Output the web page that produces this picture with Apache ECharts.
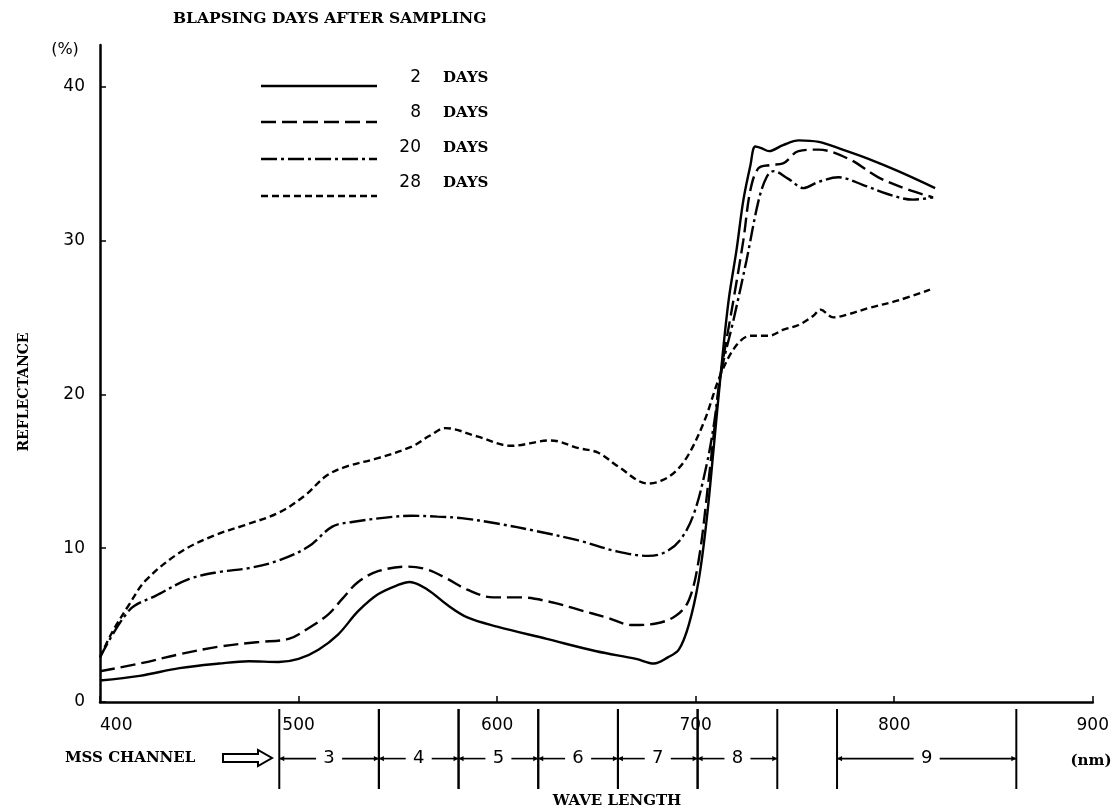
<!DOCTYPE html>
<html>
<head>
<meta charset="utf-8">
<script src="https://cdn.jsdelivr.net/npm/echarts@6/dist/echarts.min.js"></script>
<style>
html,body{margin:0;padding:0;background:#fff;}
#chart{width:1112px;height:812px;}
</style>
</head>
<body>
<div id="chart"></div>
<script>
// ---- data (wavelength nm, reflectance %) ----
const days2 = [[400,1.4],[420,1.7],[440,2.2],[460,2.5],[475,2.65],[490,2.6],[500,2.8],[510,3.4],[520,4.4],[530,5.9],[540,7.0],[550,7.6],[556,7.8],[565,7.3],[575,6.3],[585,5.5],[600,4.9],[625,4.1],[650,3.3],[670,2.8],[679,2.5],[686,2.9],[691.5,3.4],[696.5,5.0],[701.5,7.9],[705.5,11.8],[709,16.4],[712.6,21.3],[716.6,26.1],[720.6,29.4],[724,32.6],[727.6,34.9],[730,36.1],[733,36.0],[737,35.8],[744,36.2],[752,36.5],[762,36.4],[774,35.9],[787,35.3],[802,34.5],[820.6,33.4]];
const days8 = [[400,2.0],[420,2.5],[440,3.1],[460,3.6],[480,3.9],[495,4.1],[505,4.8],[515,5.7],[522,6.7],[530,7.8],[540,8.5],[555,8.8],[565,8.6],[575,8.0],[585,7.3],[598,6.8],[612,6.8],[627,6.5],[641,6.0],[655,5.5],[668,5.0],[680,5.1],[690,5.6],[696.5,6.6],[701.5,9.2],[706.5,14.4],[710.5,19.0],[712.6,21.3],[719,26.1],[724,30.0],[727.6,33.3],[731.7,34.7],[737.7,34.9],[744,35.0],[751.8,35.8],[761.8,35.9],[777,35.3],[792,34.1],[807,33.3],[819.6,32.8]];
const days20 = [[400,2.9],[415,6.0],[428,6.9],[445,8.0],[460,8.45],[475,8.7],[490,9.2],[505,10.1],[517,11.4],[527,11.7],[545,12.0],[557,12.1],[570,12.05],[582,11.95],[600,11.6],[620,11.1],[641,10.5],[660,9.8],[676,9.5],[684,9.7],[692,10.5],[699,12.2],[705.5,15.4],[709.5,18.3],[712.6,21.3],[719,24.8],[725.6,28.7],[731.7,32.6],[735.7,34.1],[739.2,34.5],[746.7,34.0],[754.3,33.4],[761.8,33.8],[771.9,34.1],[784.4,33.6],[797,33.0],[809.5,32.65],[819.6,32.8]];
const days28 = [[400,2.9],[406,4.5],[415,6.4],[423,7.9],[440,9.7],[457,10.8],[473,11.5],[490,12.3],[503,13.4],[514,14.7],[524,15.3],[540,15.85],[557,16.6],[566,17.3],[574,17.8],[590,17.26],[607,16.65],[627,17.0],[641,16.5],[651,16.2],[661,15.3],[676,14.2],[683,14.4],[690,15.0],[696.5,16.1],[704.5,18.3],[712.6,21.3],[720.6,23.2],[727.6,23.8],[736.7,23.8],[744.2,24.2],[751.8,24.5],[759.3,25.1],[762.8,25.5],[769.3,25.0],[776.9,25.2],[787,25.6],[802,26.1],[818,26.8]];

const seriesNames = ['2 DAYS','8 DAYS','20 DAYS','28 DAYS'];
const legendNumbers = ['2','8','20','28'];
const yTickValues = [0,10,20,30,40];

// MSS channel bands (nm)
const channelStart = [490,540,580,620,660,700,770];
const channelEnd   = [540,580,620,660,700,740,860];
const channelNames = ['3','4','5','6','7','8','9'];

// ---- styles ----
const serifBold = {fontFamily:'DejaVu Serif', fontWeight:'bold', color:'#000'};
const dashes = ['solid',[15,6],[16,4,3,4],[7,4]];

const chart = echarts.init(document.getElementById('chart'), null, {renderer:'canvas'});

const lineSeries = [days2, days8, days20, days28].map((d,i)=>({
  type:'line', name:seriesNames[i], data:d, xAxisIndex:0, yAxisIndex:0,
  showSymbol:false, smooth:0.35, clip:false,
  lineStyle:{color:'#000', width:2.4, type:dashes[i]},
  emphasis:{disabled:true}
}));

const channelSeries = {
  type:'custom', xAxisIndex:1, yAxisIndex:1, clip:false, silent:true,
  data: channelStart.map((s,i)=>[s, channelEnd[i], channelNames[i]]),
  encode:{x:[0,1]},
  renderItem:function(params, api){
    const x0 = api.coord([api.value(0),0])[0];
    const x1 = api.coord([api.value(1),0])[0];
    const yB = api.coord([400,0])[1];
    const yT = api.coord([400,1])[1];
    const ym = yT + 0.62*(yB-yT);
    const cx = (x0+x1)/2;
    const gap = 13;
    const st = {stroke:'#000', lineWidth:2};
    const ah = 5, aw = 2.6;
    return {type:'group', children:[
      {type:'line', shape:{x1:x0,y1:yT,x2:x0,y2:yB}, style:st},
      {type:'line', shape:{x1:x1,y1:yT,x2:x1,y2:yB}, style:st},
      {type:'line', shape:{x1:x0,y1:ym,x2:cx-gap,y2:ym}, style:{stroke:'#000',lineWidth:1.6}},
      {type:'line', shape:{x1:cx+gap,y1:ym,x2:x1,y2:ym}, style:{stroke:'#000',lineWidth:1.6}},
      {type:'polygon', shape:{points:[[x0,ym],[x0+ah,ym-aw],[x0+ah,ym+aw]]}, style:{fill:'#000'}},
      {type:'polygon', shape:{points:[[x1,ym],[x1-ah,ym-aw],[x1-ah,ym+aw]]}, style:{fill:'#000'}},
      {type:'text', x:cx, y:ym, style:{text:api.value(2), fill:'#000', font:'18px "DejaVu Sans"', align:'center', verticalAlign:'middle'}}
    ]};
  }
};

// legend drawn as graphics
const legendLineY = [86,122,159,196];
const legendTextY = [78,113,148,183];
const legendGraphics = [];
legendLineY.forEach((y,i)=>{
  legendGraphics.push({type:'line', shape:{x1:261,y1:y,x2:377,y2:y},
    style:{stroke:'#000', lineWidth:2.4, lineDash: i===0?null:dashes[i]}});
  legendGraphics.push({type:'text', x:421, y:legendTextY[i],
    style:{text:legendNumbers[i], fill:'#000', font:'17px "DejaVu Sans"', align:'right', verticalAlign:'middle'}});
  legendGraphics.push({type:'text', x:443, y:legendTextY[i],
    style:{text:'DAYS', fill:'#000', font:'bold 15px "DejaVu Serif"', align:'left', verticalAlign:'middle'}});
});

const option = {
  animation:false,
  backgroundColor:'#fff',
  title:{text:'BLAPSING DAYS AFTER SAMPLING', left:168, top:6,
    textStyle:Object.assign({fontSize:15.5}, serifBold)},
  grid:[
    {left:100, right:16, top:45, bottom:110, containLabel:false},
    {left:100, right:16, top:709, height:80, containLabel:false}
  ],
  xAxis:[
    {type:'value', gridIndex:0, min:400, max:900, interval:100,
     axisLine:{show:true, onZero:false, lineStyle:{color:'#000', width:2.5}},
     axisTick:{show:true, inside:true, length:6, lineStyle:{color:'#000', width:1.5}},
     axisLabel:{color:'#000', fontSize:17, fontFamily:'DejaVu Sans', margin:15, alignMinLabel:'left'},
     splitLine:{show:false}},
    {type:'value', gridIndex:1, min:400, max:900, show:false}
  ],
  yAxis:[
    {type:'value', gridIndex:0, min:0, max:42.7,
     axisLine:{show:true, onZero:false, lineStyle:{color:'#000', width:2.5}},
     axisTick:{show:true, inside:true, length:6, customValues:yTickValues, lineStyle:{color:'#000', width:1.5}},
     axisLabel:{color:'#000', fontSize:17, fontFamily:'DejaVu Sans', margin:15, customValues:yTickValues},
     splitLine:{show:false}},
    {type:'value', gridIndex:1, min:0, max:1, show:false}
  ],
  graphic:[
    {type:'text', x:65, y:50, style:{text:'(%)', fill:'#000', font:'16px "DejaVu Sans"', align:'center', verticalAlign:'middle'}},
    {type:'text', x:1091, y:761, style:{text:'(nm)', fill:'#000', font:'bold 15px "DejaVu Serif"', align:'center', verticalAlign:'middle'}},
    {type:'text', x:65, y:758, style:{text:'MSS CHANNEL', fill:'#000', font:'bold 15px "DejaVu Serif"', align:'left', verticalAlign:'middle'}},
    {type:'text', x:617, y:801, style:{text:'WAVE LENGTH', fill:'#000', font:'bold 15px "DejaVu Serif"', align:'center', verticalAlign:'middle'}},
    {type:'text', x:24, y:392, rotation:Math.PI/2, style:{text:'REFLECTANCE', fill:'#000', font:'bold 14px "DejaVu Serif"', align:'center', verticalAlign:'middle'}},
    {type:'polygon', shape:{points:[[223,754],[258,754],[258,750],[272,758],[258,766],[258,762],[223,762]]},
     style:{fill:'#fff', stroke:'#000', lineWidth:2}}
  ].concat(legendGraphics),
  series: lineSeries.concat([channelSeries])
};
chart.setOption(option);
</script>
</body>
</html>
